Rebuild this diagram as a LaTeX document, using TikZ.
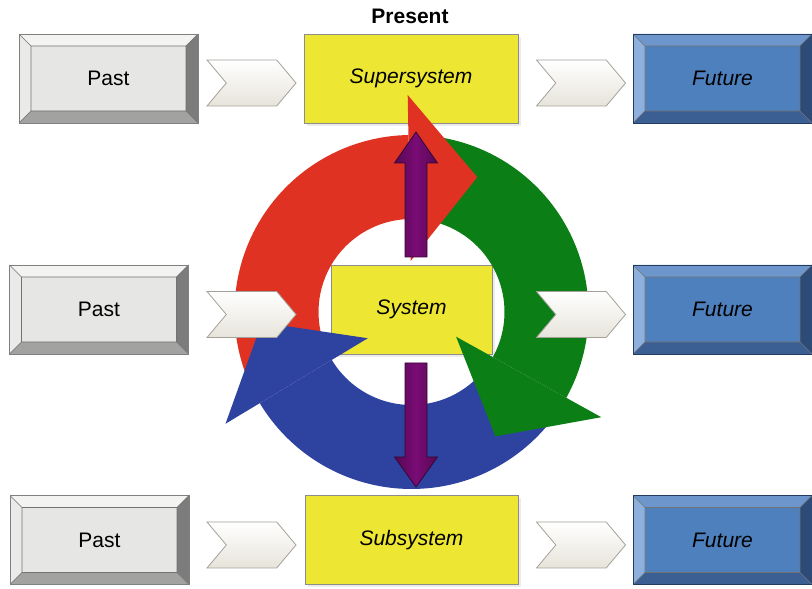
\documentclass[tikz,border=0pt]{standalone}
\usepackage{fontspec}
\setmainfont{Liberation Sans}
\usetikzlibrary{shapes.symbols,shadows}

\definecolor{pastface}{HTML}{E6E6E4}
\definecolor{pasttop}{HTML}{F3F3F1}
\definecolor{pastleft}{HTML}{EAEAE8}
\definecolor{pastright}{HTML}{7C7C7C}
\definecolor{pastbot}{HTML}{A2A2A0}
\definecolor{futface}{HTML}{4E80BD}
\definecolor{futtop}{HTML}{6C96CC}
\definecolor{futleft}{HTML}{8DB0DC}
\definecolor{futright}{HTML}{2D4B77}
\definecolor{futbot}{HTML}{3B5F93}
\definecolor{sysyellow}{HTML}{EDE633}
\definecolor{chevline}{HTML}{A3A199}
\definecolor{chevbot}{HTML}{E6E4DA}
\definecolor{cyclered}{HTML}{E03222}
\definecolor{cyclegreen}{HTML}{0B7E15}
\definecolor{cycleblue}{HTML}{2E43A0}
\definecolor{purp}{HTML}{7A0C76}

% ring of the cycle (radii in pt)
\newcommand\Rout{177}
\newcommand\Rin{93}
\newcommand\bw{12pt}
% #1 colour, #2 start angle, #3 end angle
\newcommand\cycleshaft[3]{
\fill[#1] ([shift={(ctr)}]#2:\Rout) arc[start angle=#2,end angle=#3,radius=\Rout]
  -- ([shift={(ctr)}]#3:\Rin) arc[start angle=#3,end angle=#2,radius=\Rin] -- cycle;}
% #1 colour, #2 base angle, #3 tip angle
\newcommand\cyclehead[3]{
\fill[#1] ([shift={(ctr)}]#2:217) -- ([shift={(ctr)}]#3:150) -- ([shift={(ctr)}]#2:51) -- cycle;}

\tikzset{
  bevel/.style n args={4}{path picture={
    \coordinate (bl) at (path picture bounding box.south west);
    \coordinate (br) at (path picture bounding box.south east);
    \coordinate (tl) at (path picture bounding box.north west);
    \coordinate (tr) at (path picture bounding box.north east);
    \coordinate (ibl) at ([shift={(\bw,\bw)}]bl);
    \coordinate (ibr) at ([shift={(-\bw,\bw)}]br);
    \coordinate (itl) at ([shift={(\bw,-\bw)}]tl);
    \coordinate (itr) at ([shift={(-\bw,-\bw)}]tr);
    \fill[#1] (tl) -- (tr) -- (itr) -- (itl) -- cycle;
    \fill[#2] (tl) -- (itl) -- (ibl) -- (bl) -- cycle;
    \fill[#3] (tr) -- (br) -- (ibr) -- (itr) -- cycle;
    \fill[#4] (bl) -- (ibl) -- (ibr) -- (br) -- cycle;
    \draw[black!55,line width=.6pt] (itl) rectangle (ibr)
      (tl) -- (itl) (tr) -- (itr) (bl) -- (ibl) (br) -- (ibr);
  }},
  pastbox/.style={minimum width=179pt,minimum height=89pt,fill=pastface,
    draw=black!50,line width=.8pt,bevel={pasttop}{pastleft}{pastright}{pastbot}},
  futbox/.style={minimum width=179pt,minimum height=89pt,fill=futface,
    draw=futright!80!black,line width=.8pt,bevel={futtop}{futleft}{futright}{futbot},
    font=\fontsize{21}{24}\selectfont\itshape},
  sysbox/.style={minimum height=89pt,fill=sysyellow,draw=black!45,line width=.7pt,
    drop shadow={shadow xshift=3pt,shadow yshift=-3pt,opacity=.15},
    font=\fontsize{21}{24}\selectfont\itshape},
  chev/.style={signal,signal to=east,signal from=west,signal pointer angle=100,
    minimum width=89pt,minimum height=46pt,inner sep=0pt,draw=chevline,
    line width=.8pt,top color=white,bottom color=chevbot},
  updown/.style={draw=purp!45!black,line width=.8pt,left color=purp!70!black,
    right color=purp!70!black,middle color=purp}
}

\begin{document}
\begin{tikzpicture}[x=1pt,y=1pt,font=\fontsize{21}{24}\selectfont]
\useasboundingbox (0,0) rectangle (812,589);

\node(present) at (410,573) {\bfseries Present};

% past / present / future rows
\node[pastbox](past1) at (108.5,510.5) {Past};
\node[pastbox](past2) at (99,279.5) {Past};
\node[pastbox](past3) at (99.5,49) {Past};

\node[sysbox,minimum width=214pt](super) at (411,510.5) {Supersystem};
\node[sysbox,minimum width=161pt](sys) at (411.5,279.5) {System};
\node[sysbox,minimum width=213pt](sub) at (411.5,49) {Subsystem};

\node[futbox](fut1) at (722.5,510.5) {Future};
\node[futbox](fut2) at (722.5,279.5) {Future};
\node[futbox](fut3) at (722.5,49) {Future};

% the cycle round the system
\coordinate (ctr) at (411.5,277);
\cycleshaft{cyclered}{206}{91}
\cycleshaft{cyclegreen}{86}{-29}
\cycleshaft{cycleblue}{-34}{-149}
\cyclehead{cyclered}{91}{64}
\cyclehead{cyclegreen}{-29}{-56}
\cyclehead{cycleblue}{211}{184}

% up to the supersystem, down to the subsystem
\coordinate (uptail) at (416,332);
\coordinate (downtail) at (416,226);
\draw[updown] (uptail) ++(-11,0) -- ++(0,94) -- ++(-10.5,0) -- (416,457)
  -- (437.5,426) -- (427,426) -- (427,332) -- cycle;
\draw[updown] (downtail) ++(-11,0) -- ++(0,-94) -- ++(-10.5,0) -- (416,102)
  -- (437.5,132) -- (427,132) -- (427,226) -- cycle;

% chevrons between the columns
\node[chev](c1) at (251.5,506) {};
\node[chev](c2) at (251.5,274.5) {};
\node[chev](c3) at (251.5,44) {};
\node[chev](c4) at (581,506) {};
\node[chev](c5) at (581,274.5) {};
\node[chev](c6) at (581,44) {};
\end{tikzpicture}
\end{document}
